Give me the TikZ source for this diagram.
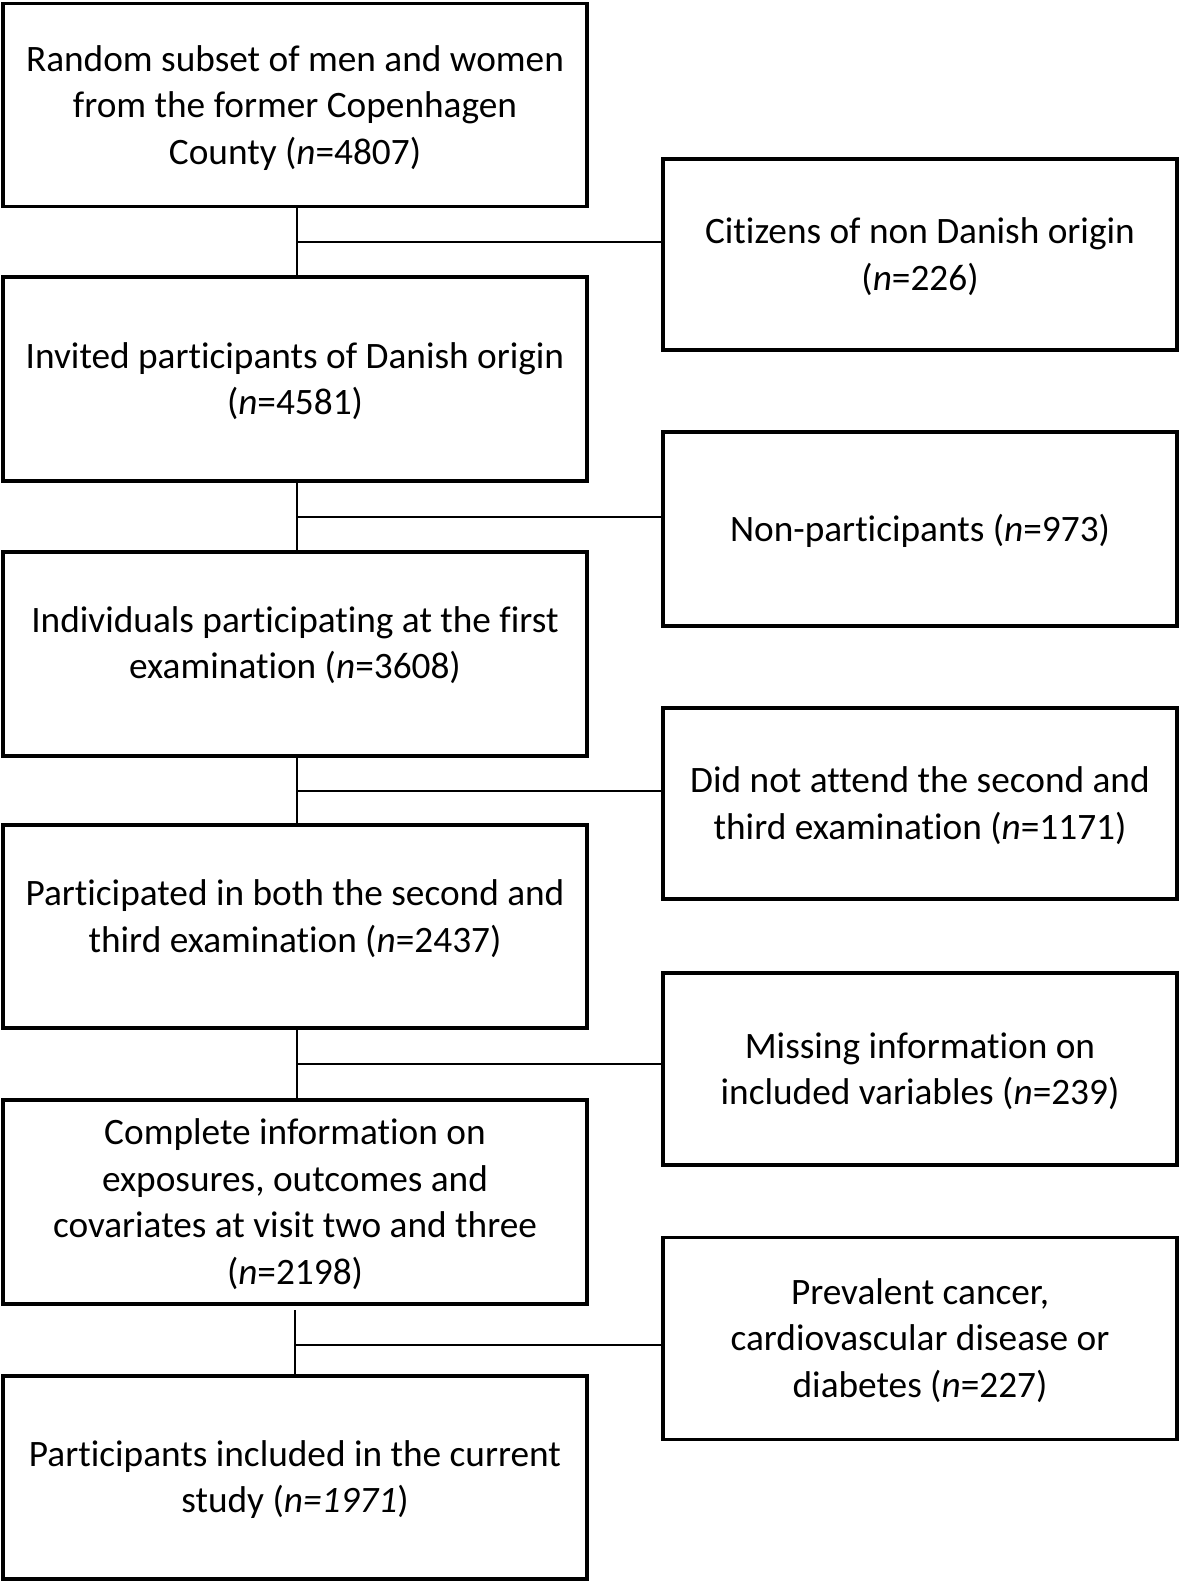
\documentclass[tikz,border=0pt]{standalone}
\usepackage{fontspec}
\setmainfont{Carlito}[Ligatures=NoCommon]
\begin{document}
\begin{tikzpicture}[x=1pt,y=-1pt,
  box/.style={draw=black,line width=3.2pt,inner sep=0pt,outer sep=0pt,align=center,
    font=\fontsize{37.3}{46.5}\selectfont},
  lbox/.style={box,minimum width=584pt},
  rbox/.style={box,minimum width=514pt},
  conn/.style={draw=black,line width=1.4pt},
  txt/.style={align=center,font=\fontsize{37.3}{46.5}\selectfont,inner sep=0pt}]
\useasboundingbox (0,0) rectangle (1181,1583);
% left column
\node[lbox,minimum height=203pt,label={[txt,yshift=-3pt]center:Random subset of men and women\\from the former Copenhagen\\County (\textit{n}=4807)}] (b1) at (295,105) {};
\node[lbox,minimum height=204pt,label={[txt,yshift=-2pt]center:Invited participants of Danish origin\\(\textit{n}=4581)}] (b2) at (295,379) {};
\node[lbox,minimum height=204pt,label={[txt,yshift=9pt]center:Individuals participating at the first\\examination (\textit{n}=3608)}] (b3) at (295,654) {};
\node[lbox,minimum height=203pt,label={[txt,yshift=8pt]center:Participated in both the second and\\third examination (\textit{n}=2437)}] (b4) at (295,926.5) {};
\node[lbox,minimum height=204pt,label={[txt,yshift=-2pt]center:Complete information on\\exposures, outcomes and\\covariates at visit two and three\\(\textit{n}=2198)}] (b5) at (295,1202) {};
\node[lbox,minimum height=203pt,label={[txt,yshift=-2pt]center:Participants included in the current\\study (\textit{n=1971})}] (b6) at (295,1477.5) {};
% right column
\node[rbox,minimum height=191pt,label={[txt,yshift=-2pt]center:Citizens of non Danish origin\\(\textit{n}=226)}] (r1) at (920,254.5) {};
\node[rbox,minimum height=194pt,label={[txt,yshift=-2pt]center:Non-participants (\textit{n}=973)}] (r2) at (920,529) {};
\node[rbox,minimum height=191pt,label={[txt,yshift=-2pt]center:Did not attend the second and\\third examination (\textit{n}=1171)}] (r3) at (920,803.5) {};
\node[rbox,minimum height=192pt,label={[txt,yshift=-2pt]center:Missing information on\\included variables (\textit{n}=239)}] (r4) at (920,1069) {};
\node[rbox,minimum height=202pt,label={[txt,yshift=-2pt]center:Prevalent cancer,\\cardiovascular disease or\\diabetes (\textit{n}=227)}] (r5) at (920,1338.5) {};
% junctions
\coordinate (j1) at (297,242);
\coordinate (j2) at (297,517);
\coordinate (j3) at (297,791);
\coordinate (j4) at (297,1064);
\coordinate (j5) at (295,1345);
% connectors
\draw[conn] (b1.south -| j1) -- (b2.north -| j1);
\draw[conn] (j1) -- (j1 -| r1.west);
\draw[conn] (b2.south -| j2) -- (b3.north -| j2);
\draw[conn] (j2) -- (j2 -| r2.west);
\draw[conn] (b3.south -| j3) -- (b4.north -| j3);
\draw[conn] (j3) -- (j3 -| r3.west);
\draw[conn] (b4.south -| j4) -- (b5.north -| j4);
\draw[conn] (j4) -- (j4 -| r4.west);
\draw[conn,shorten <=6pt] (b5.south -| j5) -- (b6.north -| j5);
\draw[conn] (j5) -- (j5 -| r5.west);
\end{tikzpicture}
\end{document}
